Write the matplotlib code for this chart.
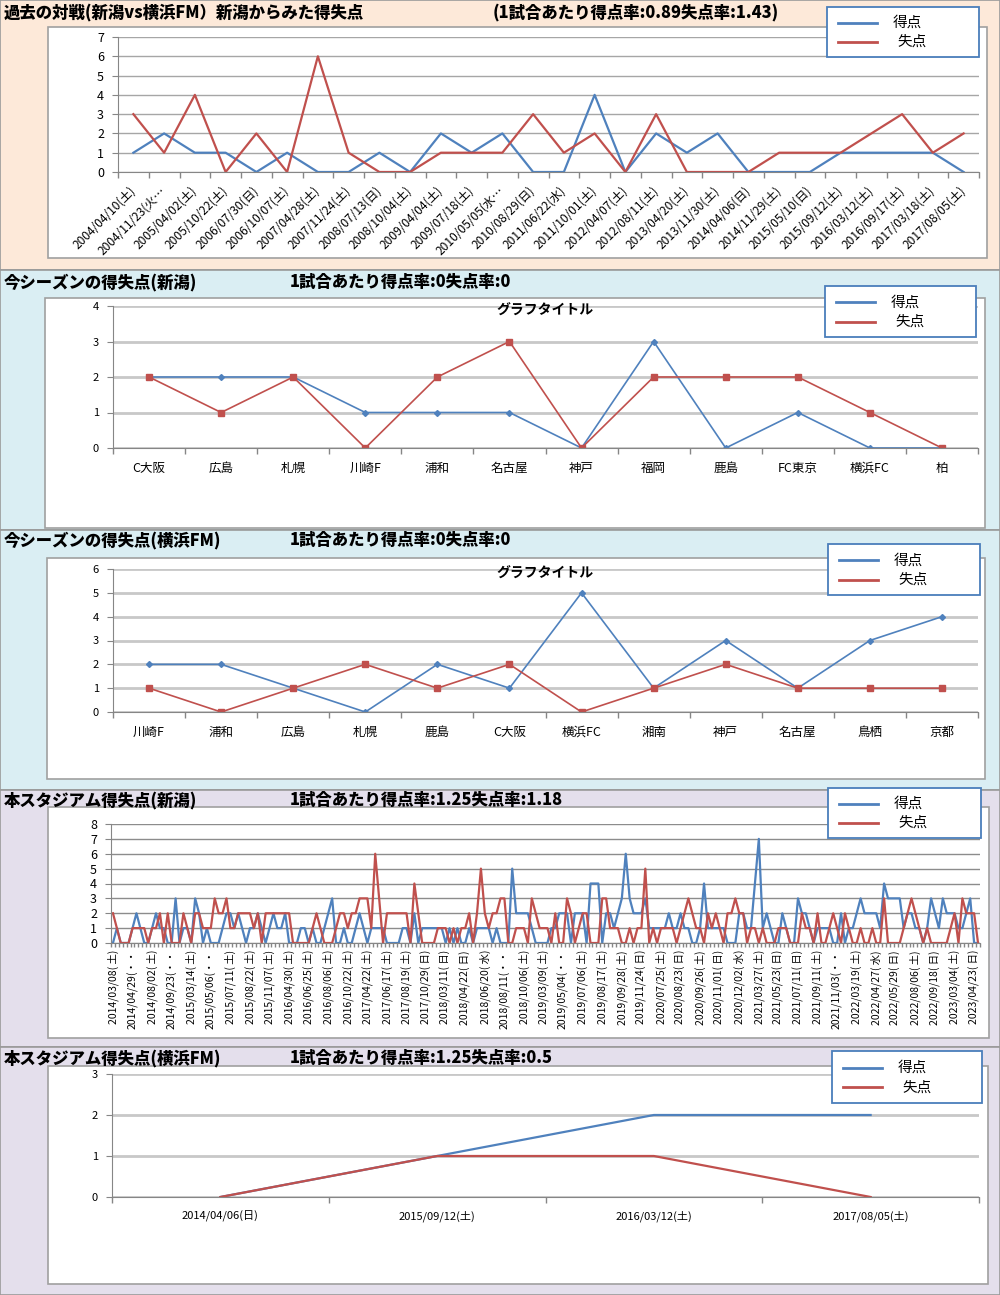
import numpy as np
import matplotlib
matplotlib.use('Agg')
import matplotlib.pyplot as plt
from matplotlib.patches import Rectangle

plt.rcParams['font.family'] = ['Noto Sans CJK JP', 'DejaVu Sans']

W, H = 1000, 1295
BLUE = '#4F81BD'
RED = '#C0504D'
AXIS_GRAY = '#868686'

# ---- panel 1 : past matches ----
past_dates = ['2004/04/10(土)', '2004/11/23(火…', '2005/04/02(土)', '2005/10/22(土)',
              '2006/07/30(日)', '2006/10/07(土)', '2007/04/28(土)', '2007/11/24(土)',
              '2008/07/13(日)', '2008/10/04(土)', '2009/04/04(土)', '2009/07/18(土)',
              '2010/05/05(水…', '2010/08/29(日)', '2011/06/22(水)', '2011/10/01(土)',
              '2012/04/07(土)', '2012/08/11(土)', '2013/04/20(土)', '2013/11/30(土)',
              '2014/04/06(日)', '2014/11/29(土)', '2015/05/10(日)', '2015/09/12(土)',
              '2016/03/12(土)', '2016/09/17(土)', '2017/03/18(土)', '2017/08/05(土)']
past_for = [1, 2, 1, 1, 0, 1, 0, 0, 1, 0, 2, 1, 2, 0, 0, 4, 0, 2, 1, 2, 0, 0, 0, 1, 1, 1, 1, 0]
past_against = [3, 1, 4, 0, 2, 0, 6, 1, 0, 0, 1, 1, 1, 3, 1, 2, 0, 3, 0, 0, 0, 1, 1, 1, 2, 3, 1, 2]

# ---- panel 2 : this season (Niigata) ----
niigata_teams = ['C大阪', '広島', '札幌', '川崎F', '浦和', '名古屋', '神戸', '福岡', '鹿島', 'FC東京', '横浜FC', '柏']
niigata_for = [2, 2, 2, 1, 1, 1, 0, 3, 0, 1, 0, 0]
niigata_against = [2, 1, 2, 0, 2, 3, 0, 2, 2, 2, 1, 0]

# ---- panel 3 : this season (Yokohama FM) ----
yfm_teams = ['川崎F', '浦和', '広島', '札幌', '鹿島', 'C大阪', '横浜FC', '湘南', '神戸', '名古屋', '鳥栖', '京都']
yfm_for = [2, 2, 1, 0, 2, 1, 5, 1, 3, 1, 3, 4]
yfm_against = [1, 0, 1, 2, 1, 2, 0, 1, 2, 1, 1, 1]

# ---- panel 4 : home stadium (Niigata) ----
home_labels = ['2014/03/08( 土)', '2014/04/29(・・', '2014/08/02( 土)', '2014/09/23(・・',
               '2015/03/14( 土)', '2015/05/06(・・', '2015/07/11( 土)', '2015/08/22( 土)',
               '2015/11/07( 土)', '2016/04/30( 土)', '2016/06/25( 土)', '2016/08/06( 土)',
               '2016/10/22( 土)', '2017/04/22( 土)', '2017/06/17( 土)', '2017/08/19( 土)',
               '2017/10/29( 日)', '2018/03/11( 日)', '2018/04/22( 日)', '2018/06/20( 水)',
               '2018/08/11(・・', '2018/10/06( 土)', '2019/03/09( 土)', '2019/05/04(・・',
               '2019/07/06( 土)', '2019/08/17( 土)', '2019/09/28( 土)', '2019/11/24( 日)',
               '2020/07/25( 土)', '2020/08/23( 日)', '2020/09/26( 土)', '2020/11/01( 日)',
               '2020/12/02( 水)', '2021/03/27( 土)', '2021/05/23( 日)', '2021/07/11( 日)',
               '2021/09/11( 土)', '2021/11/03(・・', '2022/03/19( 土)', '2022/04/27( 水)',
               '2022/05/29( 日)', '2022/08/06( 土)', '2022/09/18( 日)', '2023/03/04( 土)',
               '2023/04/23( 日)']
home_for = [0, 1, 0, 0, 0, 1, 2, 1, 0, 0,
            1, 2, 1, 1, 0, 0, 3, 0, 1, 1,
            0, 3, 2, 0, 1, 0, 0, 0, 1, 2,
            2, 1, 2, 1, 0, 1, 1, 2, 1, 0,
            1, 2, 1, 1, 2, 0, 0, 0, 1, 1,
            0, 1, 0, 0, 1, 2, 3, 0, 0, 1,
            0, 0, 1, 2, 1, 0, 1, 1, 1, 1,
            0, 0, 0, 0, 1, 1, 0, 2, 0, 1,
            1, 1, 1, 1, 1, 0, 1, 0, 1, 0,
            0, 1, 0, 1, 1, 1, 1, 0, 1, 0,
            0, 0, 5, 2, 2, 2, 2, 1, 0, 0,
            0, 0, 1, 1, 2, 2, 2, 0, 2, 2,
            2, 0, 4, 4, 4, 0, 2, 2, 1, 2,
            3, 6, 3, 2, 2, 2, 3, 1, 1, 1,
            1, 1, 2, 1, 1, 2, 1, 1, 0, 0,
            1, 4, 1, 1, 1, 1, 1, 0, 0, 0,
            2, 2, 1, 1, 4, 7, 1, 2, 1, 0,
            0, 2, 1, 0, 0, 3, 2, 2, 1, 0,
            1, 1, 1, 1, 0, 0, 2, 0, 1, 1,
            2, 3, 2, 2, 2, 2, 1, 4, 3, 3,
            3, 3, 1, 2, 2, 1, 1, 0, 1, 3,
            2, 1, 3, 2, 2, 2, 1, 1, 2, 3,
            0, 0]
home_against = [2, 1, 0, 0, 0, 1, 1, 1, 1, 0,
                1, 1, 2, 0, 2, 0, 0, 0, 2, 1,
                0, 2, 2, 1, 1, 1, 3, 2, 2, 3,
                1, 1, 2, 2, 2, 2, 1, 2, 0, 2,
                2, 2, 2, 2, 2, 2, 0, 0, 0, 0,
                0, 1, 2, 1, 0, 0, 0, 1, 2, 2,
                1, 2, 2, 3, 3, 3, 1, 6, 3, 0,
                2, 2, 2, 2, 2, 2, 0, 4, 2, 0,
                0, 0, 0, 1, 1, 1, 0, 1, 0, 1,
                1, 2, 0, 2, 5, 2, 1, 2, 2, 3,
                3, 0, 0, 1, 1, 1, 0, 3, 2, 1,
                1, 1, 0, 2, 0, 0, 3, 2, 0, 1,
                2, 2, 0, 0, 0, 3, 3, 1, 1, 1,
                0, 0, 1, 0, 1, 1, 5, 0, 1, 0,
                1, 1, 1, 1, 0, 1, 2, 3, 2, 1,
                1, 0, 2, 1, 2, 1, 0, 2, 2, 3,
                2, 2, 0, 1, 1, 0, 1, 0, 0, 0,
                1, 1, 1, 0, 0, 0, 2, 1, 1, 0,
                2, 0, 0, 1, 2, 1, 0, 2, 1, 0,
                0, 1, 0, 0, 1, 0, 0, 3, 0, 0,
                0, 0, 1, 2, 3, 2, 1, 0, 1, 0,
                0, 0, 0, 0, 1, 2, 0, 3, 2, 2,
                2, 0]

# ---- panel 5 : home stadium (Yokohama FM) ----
yfm_home_dates = ['2014/04/06(日)', '2015/09/12(土)', '2016/03/12(土)', '2017/08/05(土)']
yfm_home_for = [0, 1, 2, 2]
yfm_home_against = [0, 1, 1, 0]

fig = plt.figure(figsize=(W / 100, H / 100), dpi=100)

# background layer in pixel coordinates
bg = fig.add_axes([0, 0, 1, 1], zorder=0)
bg.set_xlim(0, W)
bg.set_ylim(H, 0)
bg.axis('off')

top = fig.add_axes([0, 0, 1, 1], zorder=10)
top.set_xlim(0, W)
top.set_ylim(H, 0)
top.axis('off')
top.patch.set_alpha(0)

sections = [(0, 270, '#FDE9D9'), (270, 530, '#DAEEF3'), (530, 790, '#DAEEF3'),
            (790, 1047, '#E4DFEC'), (1047, 1295, '#E4DFEC')]
for y0, y1, c in sections:
    bg.add_patch(Rectangle((0, y0), W, y1 - y0, fc=c, ec='#9A9A9A', lw=1.2))

boxes = [(48, 27, 987, 258), (45, 298, 985, 528), (47, 558, 985, 779),
         (48, 807, 989, 1038), (48, 1066, 988, 1284)]
for x0, y0, x1, y1 in boxes:
    bg.add_patch(Rectangle((x0, y0), x1 - x0, y1 - y0, fc='white', ec='#A0A0A0', lw=1.2))

titles = [(12, '過去の対戦(新潟vs横浜FM）新潟からみた得失点', 493, '(1試合あたり得点率:0.89失点率:1.43)'),
          (282, '今シーズンの得失点(新潟)', 290, '1試合あたり得点率:0失点率:0'),
          (540, '今シーズンの得失点(横浜FM)', 290, '1試合あたり得点率:0失点率:0'),
          (800, '本スタジアム得失点(新潟)', 290, '1試合あたり得点率:1.25失点率:1.18'),
          (1058, '本スタジアム得失点(横浜FM)', 290, '1試合あたり得点率:1.25失点率:0.5')]
for y, t1, x2, t2 in titles:
    bg.text(4, y, t1, fontsize=11.8, fontweight='heavy', va='center', ha='left')
    bg.text(x2, y, t2, fontsize=11.8, fontweight='heavy', va='center', ha='left')


def px_axes(x0, y0, x1, y1):
    ax = fig.add_axes([x0 / W, 1 - y1 / H, (x1 - x0) / W, (y1 - y0) / H], zorder=2)
    ax.patch.set_alpha(0)
    return ax


def style(ax, n, ymax, grid_color, grid_lw, ysize, minor_len=4):
    ax.set_xlim(-0.5, n - 0.5)
    ax.set_ylim(0, ymax)
    ax.set_yticks(range(ymax + 1))
    ax.set_xticks(np.arange(-0.5, n, 1), minor=True)
    ax.tick_params(axis='x', which='minor', length=minor_len, color=AXIS_GRAY, width=1)
    ax.tick_params(axis='x', which='major', length=0)
    ax.tick_params(axis='y', length=4, color=AXIS_GRAY, labelsize=ysize, pad=6)
    for s in ['top', 'right']:
        ax.spines[s].set_visible(False)
    for s in ['left', 'bottom']:
        ax.spines[s].set_color(AXIS_GRAY)
    ax.yaxis.grid(True, color=grid_color, lw=grid_lw)
    ax.set_axisbelow(True)


def legend_box(x0, y0, x1, y1):
    h = y1 - y0
    top.add_patch(Rectangle((x0, y0), x1 - x0, h, fc='white', ec='#4A7EBB', lw=1.3))
    top.plot([x0 + 11, x0 + 50], [y0 + h * 0.32] * 2, color=BLUE, lw=2)
    top.plot([x0 + 11, x0 + 50], [y0 + h * 0.70] * 2, color=RED, lw=2)
    top.text(x0 + 66, y0 + h * 0.32, '得点', fontsize=10.5, va='center', ha='left')
    top.text(x0 + 70, y0 + h * 0.70, '失点', fontsize=10.5, va='center', ha='left')


# panel 1
ax1 = px_axes(118, 37, 979, 172)
x = np.arange(len(past_dates))
ax1.plot(x, past_for, color=BLUE, lw=1.6)
ax1.plot(x, past_against, color=RED, lw=1.6)
style(ax1, len(past_dates), 7, '#A6A6A6', 1.0, 9)
ax1.set_xticks(x)
ax1.set_xticklabels(past_dates, rotation=45, ha='right', va='center',
                    rotation_mode='anchor', fontsize=8.6)
ax1.tick_params(axis='x', which='major', pad=12)
legend_box(827, 7, 979, 57)

# panel 2
ax2 = px_axes(113, 306, 978, 448)
x = np.arange(len(niigata_teams))
ax2.plot(x, niigata_for, color=BLUE, lw=1.2, marker='D', ms=3)
ax2.plot(x, niigata_against, color=RED, lw=1.2, marker='s', ms=4.5)
style(ax2, len(niigata_teams), 4, '#C8C8C8', 2.0, 8)
ax2.set_xticks(x)
ax2.set_xticklabels(niigata_teams, fontsize=9)
ax2.tick_params(axis='x', which='major', pad=10)
ax2.set_title('グラフタイトル', fontsize=10, fontweight='bold', y=0.88)
legend_box(825, 286, 976, 337)

# panel 3
ax3 = px_axes(113, 569, 978, 712)
x = np.arange(len(yfm_teams))
ax3.plot(x, yfm_for, color=BLUE, lw=1.2, marker='D', ms=3)
ax3.plot(x, yfm_against, color=RED, lw=1.2, marker='s', ms=4.5)
style(ax3, len(yfm_teams), 6, '#C8C8C8', 2.0, 8)
ax3.set_xticks(x)
ax3.set_xticklabels(yfm_teams, fontsize=9)
ax3.tick_params(axis='x', which='major', pad=10)
ax3.set_title('グラフタイトル', fontsize=10, fontweight='bold', y=0.88)
legend_box(828, 544, 980, 595)

# panel 4
ax4 = px_axes(111, 824, 980, 943)
x = np.arange(len(home_for))
ax4.plot(x, home_for, color=BLUE, lw=1.6)
ax4.plot(x, home_against, color=RED, lw=1.6)
style(ax4, len(home_for), 8, '#8C8C8C', 1.0, 9, minor_len=3)
ax4.set_xticks(np.arange(0, len(home_for), 5))
ax4.set_xticklabels(home_labels, rotation=90, ha='center', va='top', fontsize=7.5)
ax4.tick_params(axis='x', which='major', pad=5)
legend_box(828, 788, 981, 838)

# panel 5
ax5 = px_axes(112, 1074, 979, 1197)
x = np.arange(len(yfm_home_dates))
ax5.plot(x, yfm_home_for, color=BLUE, lw=1.6)
ax5.plot(x, yfm_home_against, color=RED, lw=1.6)
style(ax5, len(yfm_home_dates), 3, '#C8C8C8', 2.0, 8)
ax5.set_xticks(x)
ax5.set_xticklabels(yfm_home_dates, fontsize=8)
ax5.tick_params(axis='x', which='major', pad=10)
legend_box(832, 1051, 982, 1103)

fig.savefig('out.png', dpi=100)
